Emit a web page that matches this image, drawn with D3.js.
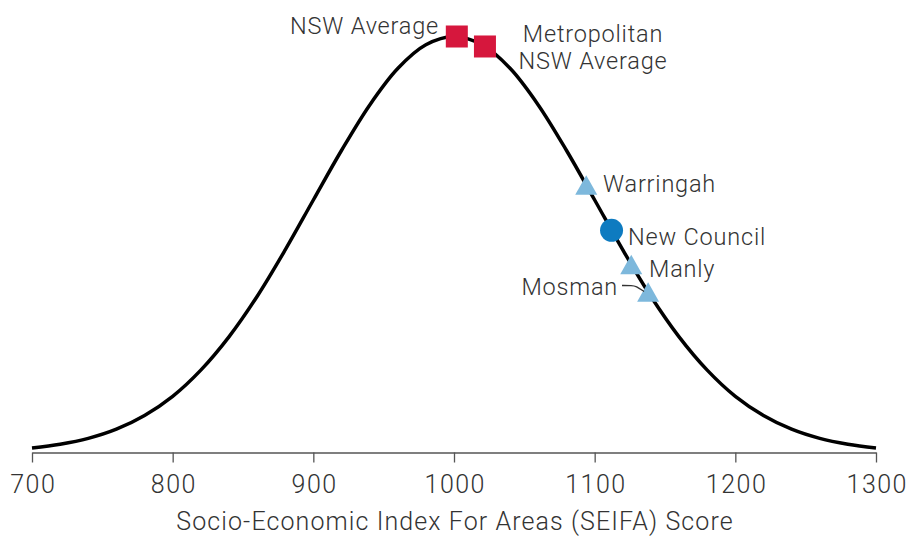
<!DOCTYPE html>
<html>
<head>
<meta charset="utf-8">
<script src="https://cdn.jsdelivr.net/npm/d3@7"></script>
<style>
  html, body { margin: 0; padding: 0; background: #ffffff; }
  svg { display: block; }
  text { font-family: Roboto, "Liberation Sans", Arial, sans-serif; font-weight: 300; fill: #333333; }
</style>
</head>
<body>
<svg id="chart" width="907" height="537"></svg>
<script>
// ---- Data ----
// Distribution curve: SEIFA score and relative height (share of peak)
const curveScores  = [700,720,740,760,780,800,820,840,860,880,900,920,940,960,980,1000,
                      1020,1040,1060,1080,1100,1120,1140,1160,1180,1200,1220,1240,1260,1280,1300];
const curveHeights = [0.011,0.020,0.034,0.056,0.089,0.135,0.198,0.278,0.375,0.487,0.607,0.726,0.835,0.923,0.980,1.000,
                      0.980,0.923,0.835,0.726,0.607,0.487,0.375,0.278,0.198,0.135,0.089,0.056,0.034,0.020,0.011];

// Highlighted areas
const pointNames   = ["NSW Average", "Metropolitan NSW Average", "Warringah", "New Council", "Manly", "Mosman"];
const pointScores  = [1002, 1022, 1094, 1112, 1126, 1138];
const pointHeights = [1.000, 0.976, 0.643, 0.534, 0.452, 0.386];
const pointShapes  = ["square", "square", "triangle", "circle", "triangle", "triangle"];

const xTicks = [700, 800, 900, 1000, 1100, 1200, 1300];
const xTitle = "Socio-Economic Index For Areas (SEIFA) Score";

// ---- Layout ----
const svg = d3.select("#chart");
const x = d3.scaleLinear().domain([700, 1300]).range([32, 876]);
const y = d3.scaleLinear().domain([0, 1]).range([452.5, 36.5]);

const colors = { square: "#d6173d", triangle: "#7db8dc", circle: "#0e7bc0" };

// Axis
const axis = d3.axisBottom(x).tickValues(xTicks).tickFormat(d3.format("d"))
  .tickSize(10).tickSizeOuter(0).tickPadding(13);
const gAxis = svg.append("g").attr("transform", "translate(0,452.5)").call(axis);
gAxis.select(".domain").attr("stroke", "#555").attr("stroke-width", 1.5);
gAxis.selectAll(".tick line").attr("stroke", "#555").attr("stroke-width", 1.3);
gAxis.selectAll(".tick text")
  .style("font-family", "Roboto, 'Liberation Sans', Arial, sans-serif")
  .style("font-weight", 300)
  .style("letter-spacing", "1.5px")
  .attr("dx", 0.75)
  .attr("font-size", 25).attr("fill", "#333");

svg.append("text")
  .attr("x", 455).attr("y", 530)
  .attr("text-anchor", "middle")
  .attr("font-size", 25)
  .style("letter-spacing", "1.1px")
  .text(xTitle);

// Curve
const line = d3.line()
  .x((d, i) => x(curveScores[i]))
  .y(d => y(d))
  .curve(d3.curveCatmullRom.alpha(0.5));
svg.append("path")
  .datum(curveHeights)
  .attr("d", line)
  .attr("fill", "none")
  .attr("stroke", "#000")
  .attr("stroke-width", 3.5);

// Markers
const sq = 22, tri = 22, triH = 19.5, rad = 11.5;
pointScores.forEach((s, i) => {
  const cx = x(s), cy = y(pointHeights[i]);
  const shape = pointShapes[i];
  if (shape === "square") {
    svg.append("rect").attr("x", cx - sq / 2).attr("y", cy - sq / 2)
      .attr("width", sq).attr("height", sq).attr("fill", colors.square);
  } else if (shape === "circle") {
    svg.append("circle").attr("cx", cx).attr("cy", cy).attr("r", rad).attr("fill", colors.circle);
  } else {
    const p = d3.path();
    p.moveTo(cx, cy - triH / 2);
    p.lineTo(cx + tri / 2, cy + triH / 2);
    p.lineTo(cx - tri / 2, cy + triH / 2);
    p.closePath();
    svg.append("path").attr("d", p.toString()).attr("fill", colors.triangle);
  }
});

// Labels
const fs = 23.5;
function label(txt, lx, ly, anchor) {
  svg.append("text").attr("x", lx).attr("y", ly).attr("text-anchor", anchor || "start")
    .attr("font-size", fs).style("letter-spacing", "0.8px").text(txt);
}
label(pointNames[0], 439, 33.5, "end");
label("Metropolitan", 593, 41.5, "middle");
label("NSW Average", 593, 68.5, "middle");
label(pointNames[2], 603, 192, "start");
label(pointNames[3], 628, 245, "start");
label(pointNames[4], 649, 277, "start");
label(pointNames[5], 618, 295, "end");

// Leader for Mosman
svg.append("path")
  .attr("d", d3.line().curve(d3.curveBasis)([[622, 285.5], [632, 285.5], [636, 286], [644, 291.5]]))
  .attr("fill", "none").attr("stroke", "#333").attr("stroke-width", 1.3);
</script>
</body>
</html>
